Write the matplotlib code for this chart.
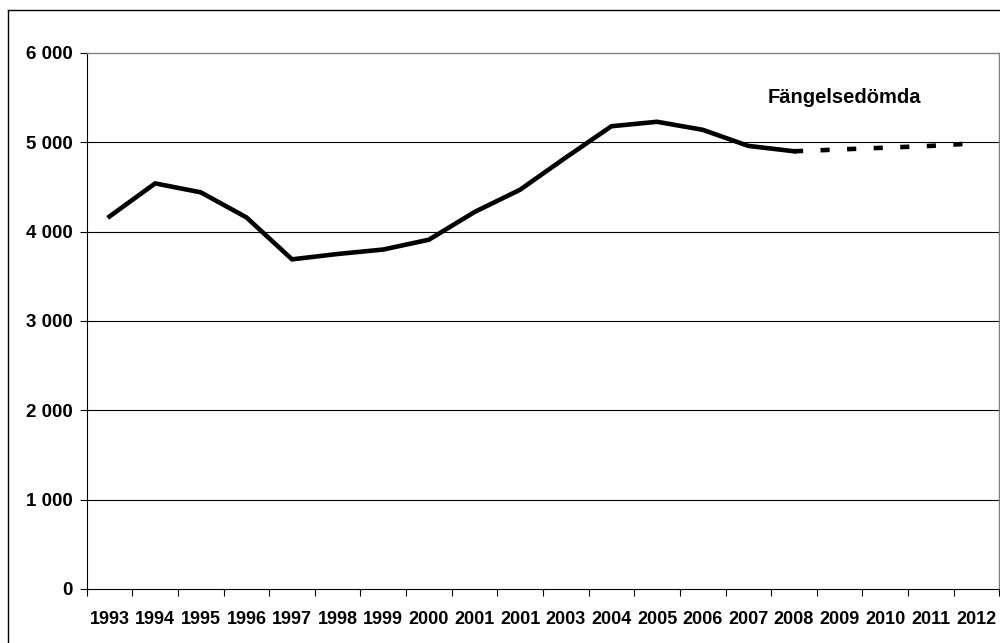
import numpy as np
import matplotlib
matplotlib.use('Agg')
import matplotlib.pyplot as plt
from matplotlib.lines import Line2D

plt.rcParams['font.family'] = ['Liberation Sans', 'DejaVu Sans']

years = ['1993', '1994', '1995', '1996', '1997', '1998', '1999', '2000', '2001', '2001',
         '2003', '2004', '2005', '2006', '2007', '2008', '2009', '2010', '2011', '2012']
# observerade värden 1993-2008
actual = [4170, 4540, 4440, 4160, 3690, 3750, 3800, 3910, 4220, 4470,
          4830, 5180, 5230, 5140, 4960, 4900]
# prognos 2008-2012
forecast = [4900, 4920, 4940, 4960, 4990]
label = 'Fängelsedömda'
yticks = [0, 1000, 2000, 3000, 4000, 5000, 6000]

fig = plt.figure(figsize=(10, 6.43), dpi=100)
ax = fig.add_axes([0.0867, 0.084, 0.9126, 0.8336])

x = np.arange(len(years)) + 0.5
ax.plot(x[:len(actual)], actual, color='black', lw=3.3, solid_joinstyle='miter', zorder=3)
ax.plot(x[len(actual) - 1:], forecast, color='black', lw=3.3, linestyle=(0, (2.0, 3.8)),
        dash_capstyle='butt', zorder=3)

ax.set_xlim(0, len(years))
ax.set_ylim(0, 6000)
ax.set_yticks(yticks)
ax.set_yticklabels([f'{v:,}'.replace(',', ' ') for v in yticks], fontsize=13.5, fontweight='bold')
for v in yticks[1:-1]:
    ax.axhline(v, color='black', lw=0.8, zorder=1)

ax.set_xticks(np.arange(len(years) + 1))
ax.set_xticklabels([])
ax.set_xticks(x, minor=True)
ax.set_xticklabels(years, minor=True, fontsize=13, fontweight='bold')
ax.tick_params(axis='x', which='major', length=5, width=0.8, direction='out')
ax.tick_params(axis='x', which='minor', length=0, pad=16)
ax.tick_params(axis='y', length=5, width=0.8, direction='out', pad=5)

for s in ['top', 'right']:
    ax.spines[s].set_color('#808080')
    ax.spines[s].set_linewidth(1)
for s in ['left', 'bottom']:
    ax.spines[s].set_color('black')
    ax.spines[s].set_linewidth(0.8)

ax.text(16.6, 5500, label, fontsize=14.5, fontweight='bold', ha='center', va='center')

# ram runt diagrammet
fig.add_artist(Line2D([0.008, 1.1], [0.9845, 0.9845], color='black', lw=1, transform=fig.transFigure))
fig.add_artist(Line2D([0.008, 0.008], [-0.1, 0.9845], color='black', lw=1, transform=fig.transFigure))

fig.savefig('out.png', dpi=100)
